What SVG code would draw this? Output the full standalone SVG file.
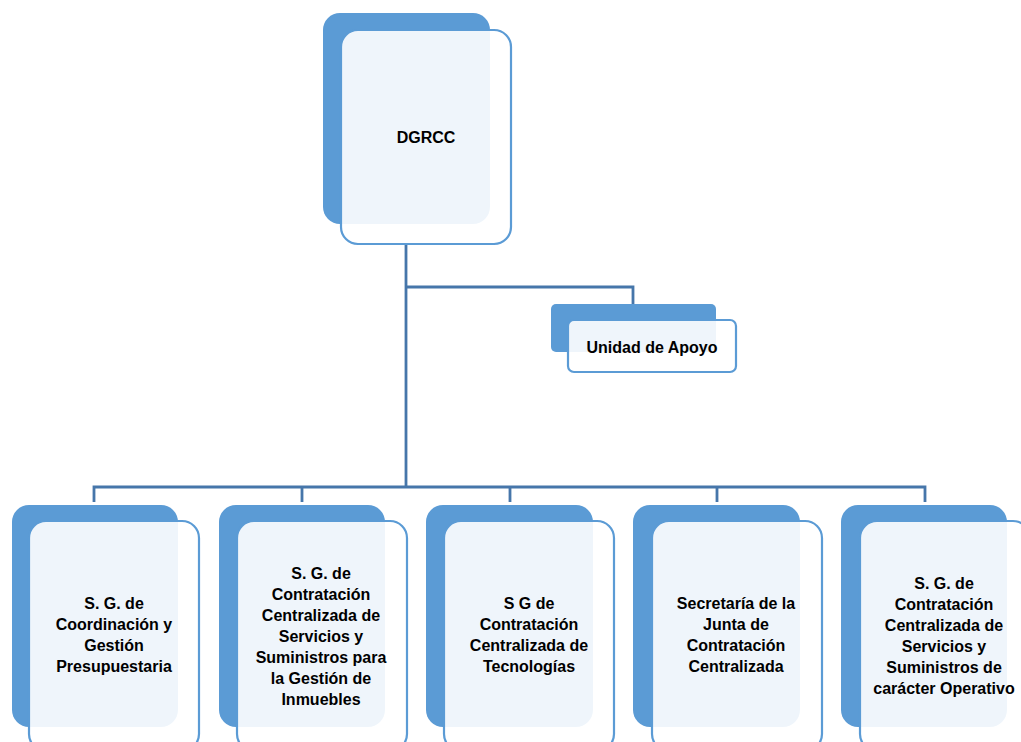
<svg xmlns="http://www.w3.org/2000/svg" width="1021" height="742" viewBox="0 0 1021 742">
<style>
.back{fill:#5B9BD5}
.front{fill:#ffffff;fill-opacity:0.9;stroke:#5B9BD5;stroke-width:2.2}
.conn{fill:none;stroke:#4676AA;stroke-width:2.8}
text{font-family:"Liberation Sans","Open Sans",Arial,sans-serif;font-weight:bold;font-size:16px;fill:#000;text-anchor:middle}
</style>
<rect width="1021" height="742" fill="#ffffff"/>
<g id="connectors">
<path class="conn" d="M406,244 V487"/>
<path class="conn" d="M406,287 H633 V304"/>
<path class="conn" d="M94,502 V487 H925 V502"/>
<path class="conn" d="M302,487 V502"/>
<path class="conn" d="M510,487 V502"/>
<path class="conn" d="M717,487 V502"/>
</g>
<g id="node-dgrcc">
<rect class="back" x="323" y="13" width="167" height="211" rx="17"/>
<rect class="front" x="341" y="30" width="170" height="214" rx="17"/>
<text x="426" y="143">DGRCC</text>
</g>
<g id="node-unidad">
<rect class="back" x="551" y="304" width="165" height="48" rx="5"/>
<rect class="front" x="568" y="320" width="168" height="52" rx="6"/>
<text x="652" y="353">Unidad de Apoyo</text>
</g>
<g id="node-sg1">
<rect class="back" x="12" y="505" width="166" height="222" rx="17"/>
<rect class="front" x="29" y="521" width="170" height="230" rx="17"/>
<text x="114" y="609">S. G. de</text>
<text x="114" y="630">Coordinación y</text>
<text x="114" y="651">Gestión</text>
<text x="114" y="672">Presupuestaria</text>
</g>
<g id="node-sg2">
<rect class="back" x="219" y="505" width="166" height="222" rx="17"/>
<rect class="front" x="237" y="521" width="170" height="230" rx="17"/>
<text x="321" y="579">S. G. de</text>
<text x="321" y="600">Contratación</text>
<text x="321" y="621">Centralizada de</text>
<text x="321" y="642">Servicios y</text>
<text x="321" y="663">Suministros para</text>
<text x="321" y="684">la Gestión de</text>
<text x="321" y="705">Inmuebles</text>
</g>
<g id="node-sg3">
<rect class="back" x="426" y="505" width="167" height="222" rx="17"/>
<rect class="front" x="444" y="521" width="170" height="230" rx="17"/>
<text x="529" y="609">S G de</text>
<text x="529" y="630">Contratación</text>
<text x="529" y="651">Centralizada de</text>
<text x="529" y="672">Tecnologías</text>
</g>
<g id="node-secretaria">
<rect class="back" x="633" y="505" width="167" height="222" rx="17"/>
<rect class="front" x="652" y="521" width="170" height="230" rx="17"/>
<text x="736" y="609">Secretaría de la</text>
<text x="736" y="630">Junta de</text>
<text x="736" y="651">Contratación</text>
<text x="736" y="672">Centralizada</text>
</g>
<g id="node-sg5">
<rect class="back" x="841" y="505" width="166" height="222" rx="17"/>
<rect class="front" x="860" y="521" width="170" height="230" rx="17"/>
<text x="944" y="589">S. G. de</text>
<text x="944" y="610">Contratación</text>
<text x="944" y="631">Centralizada de</text>
<text x="944" y="652">Servicios y</text>
<text x="944" y="673">Suministros de</text>
<text x="944" y="694">carácter Operativo</text>
</g>
</svg>
